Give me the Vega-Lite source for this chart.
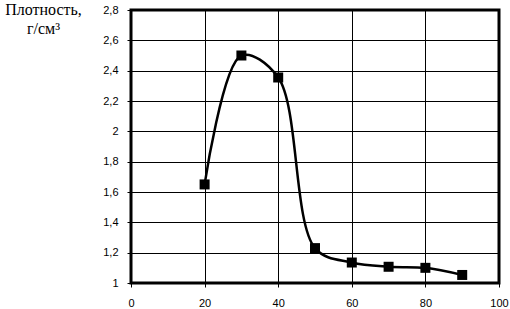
{
  "$schema": "https://vega.github.io/schema/vega-lite/v6.json",
  "width": 368,
  "height": 273,
  "autosize": {"type": "none"},
  "padding": {"left": 131, "top": 10, "right": 11, "bottom": 26},
  "background": "white",
  "config": {
    "view": {"stroke": "black", "strokeWidth": 3},
    "axis": {
      "domain": false,
      "grid": true,
      "gridColor": "black",
      "gridWidth": 1,
      "gridOpacity": 1,
      "tickColor": "black",
      "tickSize": 4,
      "labelFont": "Liberation Sans",
      "labelFontSize": 11,
      "labelColor": "black"
    }
  },
  "data": {
    "values": [
      {"x": 20, "y": 1.65},
      {"x": 30, "y": 2.5},
      {"x": 40, "y": 2.355},
      {"x": 50, "y": 1.23},
      {"x": 60, "y": 1.135},
      {"x": 70, "y": 1.107},
      {"x": 80, "y": 1.1},
      {"x": 90, "y": 1.053}
    ]
  },
  "encoding": {
    "x": {
      "field": "x",
      "type": "quantitative",
      "scale": {"domain": [0, 100], "nice": false},
      "axis": {"values": [0, 20, 40, 60, 80, 100], "title": null, "labelPadding": 10, "labelFlush": false}
    },
    "y": {
      "field": "y",
      "type": "quantitative",
      "scale": {"domain": [1, 2.8], "nice": false, "zero": false},
      "axis": {
        "values": [1, 1.2, 1.4, 1.6, 1.8, 2, 2.2, 2.4, 2.6, 2.8],
        "format": ".1~f",
        "labelExpr": "replace(datum.label, '.', ',')",
        "labelPadding": 9,
        "labelFlush": false,
        "title": ["Плотность,", "г/см³"],
        "titleFont": "Liberation Serif",
        "titleFontSize": 16,
        "titleFontWeight": "normal",
        "titleAngle": 0,
        "titleAlign": "center",
        "titleBaseline": "top",
        "titleX": -88,
        "titleY": -9,
        "titleLineHeight": 19,
        "titleColor": "black"
      }
    }
  },
  "layer": [
    {"mark": {"type": "line", "interpolate": "catmull-rom", "color": "black", "strokeWidth": 2.5}},
    {"mark": {"type": "square", "color": "black", "opacity": 1, "size": 100, "filled": true}}
  ]
}
